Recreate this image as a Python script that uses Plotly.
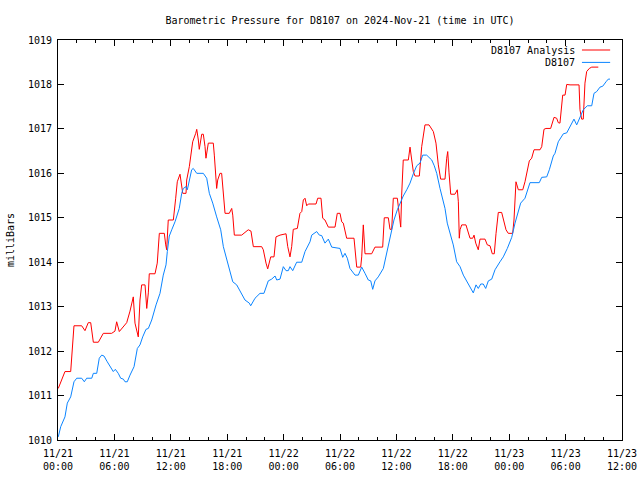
import pandas as pd
import plotly.graph_objects as go

base = pd.Timestamp("2024-11-21 00:00")

# Hours since 2024-11-21 00:00 UTC and pressure (mbar)
analysis_hours = [0.03, 0.74, 1.35, 1.70, 2.52, 2.87, 3.22, 3.48, 3.76, 4.29, 4.82, 5.71, 6.06, 6.24, 6.52, 7.31,
                  7.66, 7.84, 8.01, 8.19, 8.44, 8.54, 8.72, 8.90, 9.26, 9.44, 9.61, 9.71, 10.32, 10.56, 10.78, 11.31,
                  11.46, 11.56, 11.73, 12.27, 12.52, 12.69, 12.98, 13.09, 13.27, 13.62, 13.69, 13.97, 14.12, 14.33,
                  14.65, 14.76, 14.93, 15.03, 15.29, 15.46, 15.64, 15.74, 15.99, 16.52, 16.63, 16.78, 16.88, 16.99,
                  17.23, 17.41, 17.59, 17.77, 18.22, 18.48, 18.59, 18.76, 19.54, 20.24, 20.53, 20.78, 21.67, 21.84,
                  22.13, 22.31, 22.63, 22.98, 23.19, 23.62, 24.26, 24.44, 24.68, 24.86, 25.03, 25.46, 25.74, 25.93,
                  26.10, 26.28, 26.46, 26.63, 27.45, 27.63, 27.98, 28.16, 28.40, 28.76, 29.47, 29.71, 30.00, 30.18,
                  30.35, 30.71, 31.49, 31.70, 31.78, 32.20, 32.31, 32.48, 32.55, 32.66, 33.37, 33.72, 34.54, 34.71,
                  35.14, 35.32, 35.50, 35.67, 36.10, 36.31, 36.46, 36.56, 36.73, 37.27, 37.45, 37.63, 37.80, 37.98,
                  38.44, 38.69, 38.86, 39.04, 39.47, 39.76, 39.93, 40.21, 40.46, 40.71, 41.17, 41.35, 41.46, 41.60,
                  41.78, 42.23, 42.48, 42.59, 42.69, 42.77, 42.95, 43.40, 43.65, 43.83, 44.12, 44.26, 44.44, 44.71,
                  44.89, 45.43, 45.67, 45.96, 46.20, 46.41, 46.60, 46.84, 47.20, 47.37, 47.66, 47.90, 48.37, 48.51,
                  48.62, 48.72, 48.97, 49.44, 49.68, 49.93, 50.14, 50.39, 50.64, 51.28, 51.46, 51.70, 51.91, 52.41,
                  52.63, 52.77, 53.05, 53.22, 53.40, 53.59, 53.69, 53.94, 54.12, 54.47, 55.43, 55.53, 55.71, 55.88,
                  56.06, 56.24, 56.52, 56.78, 57.48]
analysis_mbar = [1011.16, 1011.54, 1011.54, 1012.57, 1012.57, 1012.46, 1012.64, 1012.64, 1012.20, 1012.20, 1012.40,
                 1012.40, 1012.45, 1012.66, 1012.44, 1012.64, 1012.90, 1013.11, 1013.22, 1012.63, 1012.45, 1012.32,
                 1013.15, 1013.49, 1013.49, 1012.96, 1013.31, 1013.74, 1013.74, 1013.98, 1014.65, 1014.65, 1014.39,
                 1014.28, 1014.95, 1014.95, 1015.44, 1015.81, 1015.98, 1015.78, 1015.55, 1015.55, 1015.85, 1016.15,
                 1016.39, 1016.71, 1016.90, 1016.99, 1016.75, 1016.54, 1016.88, 1016.88, 1016.60, 1016.34, 1016.68,
                 1016.68, 1016.41, 1015.85, 1015.66, 1015.85, 1016.00, 1016.00, 1015.55, 1015.10, 1015.10, 1015.21,
                 1015.06, 1014.61, 1014.61, 1014.73, 1014.70, 1014.35, 1014.35, 1014.28, 1013.98, 1013.85, 1014.12,
                 1014.12, 1014.57, 1014.61, 1014.64, 1014.35, 1014.12, 1014.35, 1014.74, 1014.76, 1015.10, 1015.14,
                 1015.40, 1015.44, 1015.27, 1015.31, 1015.31, 1015.44, 1015.44, 1014.99, 1014.95, 1014.79, 1014.79,
                 1015.10, 1015.10, 1014.91, 1014.88, 1014.54, 1014.54, 1014.05, 1013.89, 1013.89, 1014.12, 1014.84,
                 1014.57, 1014.19, 1014.19, 1014.34, 1014.34, 1015.00, 1015.00, 1014.74, 1014.74, 1015.44, 1015.44,
                 1014.97, 1014.79, 1015.51, 1016.30, 1016.30, 1016.59, 1016.30, 1016.04, 1015.94, 1015.94, 1016.60,
                 1016.90, 1017.09, 1017.09, 1016.98, 1016.94, 1016.68, 1016.19, 1015.87, 1015.87, 1016.34, 1016.49,
                 1016.01, 1015.53, 1015.53, 1015.63, 1015.36, 1014.54, 1014.73, 1014.84, 1014.84, 1014.65, 1014.54,
                 1014.54, 1014.61, 1014.43, 1014.28, 1014.52, 1014.52, 1014.39, 1014.37, 1014.19, 1014.19, 1014.65,
                 1015.12, 1015.12, 1014.97, 1014.73, 1014.65, 1014.65, 1014.95, 1015.51, 1015.81, 1015.63, 1015.63,
                 1015.81, 1016.04, 1016.28, 1016.34, 1016.53, 1016.53, 1016.60, 1016.99, 1017.01, 1017.01, 1017.16,
                 1017.26, 1017.24, 1017.14, 1017.13, 1017.59, 1017.76, 1017.76, 1018.00, 1017.99, 1017.99, 1017.43,
                 1017.22, 1017.22, 1018.03, 1018.29, 1018.36, 1018.39, 1018.39]

station_hours = [0.03, 0.29, 0.74, 0.99, 1.35, 1.70, 1.99, 2.52, 2.80, 3.05, 3.59, 3.76, 4.12, 4.39, 4.65, 4.89,
                 5.24, 5.64, 5.88, 6.10, 6.41, 6.67, 6.95, 7.13, 7.37, 7.66, 8.09, 8.44, 8.72, 9.01, 9.36, 9.61,
                 9.97, 10.43, 10.85, 11.20, 11.49, 11.63, 11.84, 12.10, 12.45, 12.90, 13.16, 13.33, 13.62, 13.76,
                 13.97, 14.22, 14.39, 14.76, 15.46, 15.82, 16.10, 16.46, 16.88, 17.31, 17.59, 18.12, 18.59, 19.01,
                 19.54, 19.89, 20.35, 20.50, 20.96, 21.49, 21.91, 22.37, 22.73, 23.09, 23.27, 23.62, 23.97, 24.26,
                 24.50, 24.68, 24.97, 25.39, 25.93, 26.28, 26.81, 26.99, 27.52, 27.80, 28.05, 28.40, 28.76, 29.12,
                 30.00, 30.29, 30.53, 30.78, 31.06, 31.60, 31.95, 32.31, 32.66, 33.01, 33.27, 33.48, 33.72, 34.07,
                 34.61, 34.97, 35.39, 35.74, 36.10, 36.38, 36.73, 37.10, 37.45, 37.80, 38.16, 38.51, 38.80, 39.22,
                 39.50, 39.76, 40.03, 40.29, 40.64, 40.82, 41.17, 41.41, 41.70, 42.05, 42.41, 42.77, 43.12, 43.54,
                 43.90, 44.18, 44.47, 44.71, 44.97, 45.24, 45.50, 45.78, 46.14, 46.49, 47.02, 47.37, 47.80, 48.27,
                 48.62, 48.97, 49.22, 49.68, 50.21, 51.20, 51.46, 51.99, 52.27, 52.69, 52.87, 53.22, 53.48, 53.76,
                 54.12, 54.47, 54.89, 55.18, 55.46, 55.88, 56.31, 56.78, 57.02, 57.31, 57.66, 57.95, 58.30, 58.54,
                 58.72]
station_mbar = [1010.07, 1010.30, 1010.52, 1010.83, 1010.97, 1011.31, 1011.39, 1011.39, 1011.31, 1011.39, 1011.39,
                1011.50, 1011.50, 1011.84, 1011.91, 1011.89, 1011.76, 1011.61, 1011.54, 1011.59, 1011.50, 1011.39,
                1011.37, 1011.31, 1011.31, 1011.46, 1011.65, 1012.06, 1012.14, 1012.32, 1012.49, 1012.51, 1012.70,
                1013.04, 1013.30, 1013.71, 1013.94, 1014.24, 1014.59, 1014.73, 1014.91, 1015.21, 1015.55, 1015.66,
                1015.70, 1015.63, 1015.85, 1016.08, 1016.11, 1016.00, 1016.00, 1015.89, 1015.55, 1015.33, 1015.02,
                1014.73, 1014.35, 1013.90, 1013.56, 1013.49, 1013.30, 1013.15, 1013.08, 1013.02, 1013.19, 1013.30,
                1013.30, 1013.58, 1013.62, 1013.69, 1013.60, 1013.62, 1013.90, 1013.81, 1013.81, 1013.90, 1013.81,
                1014.00, 1014.00, 1014.24, 1014.46, 1014.61, 1014.69, 1014.61, 1014.60, 1014.43, 1014.52, 1014.34,
                1014.31, 1014.11, 1014.20, 1014.09, 1013.86, 1013.71, 1013.71, 1013.89, 1013.75, 1013.60, 1013.58,
                1013.39, 1013.58, 1013.67, 1013.86, 1014.20, 1014.61, 1014.95, 1015.18, 1015.33, 1015.49, 1015.63,
                1015.78, 1015.99, 1016.17, 1016.23, 1016.41, 1016.41, 1016.34, 1016.30, 1016.17, 1016.00, 1015.66,
                1015.51, 1015.21, 1014.88, 1014.65, 1014.39, 1014.01, 1013.90, 1013.71, 1013.54, 1013.41, 1013.31,
                1013.49, 1013.41, 1013.51, 1013.51, 1013.41, 1013.58, 1013.62, 1013.83, 1014.01, 1014.12, 1014.31,
                1014.56, 1014.88, 1015.18, 1015.33, 1015.44, 1015.79, 1015.79, 1015.91, 1015.92, 1016.08, 1016.39,
                1016.45, 1016.71, 1016.81, 1016.89, 1016.91, 1017.05, 1017.22, 1017.09, 1017.22, 1017.43, 1017.52,
                1017.52, 1017.80, 1017.84, 1017.94, 1017.96, 1018.06, 1018.12, 1018.12]

series_names = ["D8107 Analysis", "D8107"]
series_colors = ["#ff0000", "#0a84ff"]

title_text = "Barometric Pressure for D8107 on 2024-Nov-21 (time in UTC)"
y_label = "milliBars"

tick_hours = list(range(0, 61, 6))
tick_labels = [(base + pd.Timedelta(hours=h)).strftime("%m/%d<br>%H:%M") for h in tick_hours]
tick_vals = [base + pd.Timedelta(hours=h) for h in tick_hours]

t_analysis = [base + pd.Timedelta(hours=h) for h in analysis_hours]
t_station = [base + pd.Timedelta(hours=h) for h in station_hours]

FONT = "DejaVu Sans Mono"

fig = go.Figure()
fig.add_trace(go.Scatter(x=t_analysis, y=analysis_mbar, mode="lines", name=series_names[0],
                         line=dict(color=series_colors[0], width=1), showlegend=False))
fig.add_trace(go.Scatter(x=t_station, y=station_mbar, mode="lines", name=series_names[1],
                         line=dict(color=series_colors[1], width=1), showlegend=False))

# gnuplot-style legend: text right-aligned, sample line to its right
legend_rows = [0.975, 0.944]
for name, color, yy in zip(series_names, series_colors, legend_rows):
    fig.add_annotation(x=0.915, y=yy, xref="paper", yref="paper", text=name, showarrow=False,
                       xanchor="right", yanchor="middle", xshift=3, font=dict(family=FONT, size=10, color="black"))
    fig.add_shape(type="line", xref="paper", yref="paper", x0=0.929, x1=0.979, y0=yy, y1=yy,
                  line=dict(color=color, width=1))

fig.add_annotation(x=-0.085, y=0.5, xref="paper", yref="paper", text=y_label, showarrow=False,
                   textangle=-90, xanchor="center", yanchor="middle",
                   font=dict(family=FONT, size=10, color="black"))

fig.update_layout(
    width=640, height=480,
    margin=dict(l=58, r=18, t=40, b=40, autoexpand=False),
    paper_bgcolor="white", plot_bgcolor="white",
    font=dict(family=FONT, size=10, color="black"),
    title=dict(text=title_text, x=0.5, xref="paper", xanchor="center", y=1 - 20 / 480, yref="container",
               yanchor="middle", automargin=False, font=dict(family=FONT, size=10, color="black")),
)
fig.update_xaxes(
    type="date", automargin=False,
    range=[base, base + pd.Timedelta(hours=60)],
    tickvals=tick_vals, ticktext=tick_labels,
    ticks="inside", ticklen=6, tickcolor="black", tickwidth=1,
    minor=dict(dtick=2 * 3600 * 1000, ticks="inside", ticklen=3, tickcolor="black", tick0=base),
    showline=True, linecolor="black", linewidth=1, mirror="allticks",
    showgrid=False, zeroline=False, ticklabelstandoff=4,
    tickfont=dict(family=FONT, size=10, color="black"),
)
fig.update_yaxes(
    range=[1010, 1019], dtick=1, tick0=1010, automargin=False,
    ticks="inside", ticklen=6, tickcolor="black", tickwidth=1,
    showline=True, linecolor="black", linewidth=1, mirror="allticks",
    showgrid=False, zeroline=False, ticklabelstandoff=3,
    tickfont=dict(family=FONT, size=10, color="black"),
)

fig.write_html("out.html", config={"displayModeBar": False},
               post_script="document.body.style.margin='0px';document.body.style.padding='0px';")
